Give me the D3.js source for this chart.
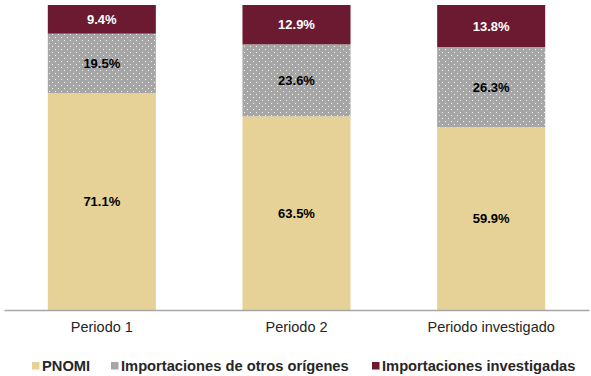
<!DOCTYPE html>
<html>
<head>
<meta charset="utf-8">
<script src="https://cdn.jsdelivr.net/npm/d3@7"></script>
<style>
    body { margin: 0; background: #fff; }
    svg { display: block; font-family: 'Liberation Sans', Arial, sans-serif; }
</style>
</head>
<body>
<svg id="chart" width="591" height="376"></svg>
<script>
const periods = ['Periodo 1', 'Periodo 2', 'Periodo investigado'];
const pnomi = [71.1, 63.5, 59.9];
const otros = [19.5, 23.6, 26.3];
const investigadas = [9.4, 12.9, 13.8];
const seriesNames = ['PNOMI', 'Importaciones de otros orígenes', 'Importaciones investigadas'];

const width = 591;
const height = 376;
const margin = { top: 5, right: 2, bottom: 66, left: 4 };

const svg = d3.select('#chart');

// dotted fill for the gray segment
const defs = svg.append('defs');
const pat = defs.append('pattern')
    .attr('id', 'dots')
    .attr('patternUnits', 'userSpaceOnUse')
    .attr('width', 6)
    .attr('height', 6);
pat.append('rect').attr('width', 6).attr('height', 6).attr('fill', '#a6a6a6');
pat.append('rect').attr('x', 1).attr('y', 1).attr('width', 1).attr('height', 1).attr('fill', '#f2f2f2');
pat.append('rect').attr('x', 4).attr('y', 4).attr('width', 1).attr('height', 1).attr('fill', '#f2f2f2');

const colors = ['#e6d296', 'url(#dots)', '#6b1a31'];
const legendColors = ['#e6d296', '#a6a6a6', '#6b1a31'];
const labelColors = ['#000', '#000', '#fff'];

const rows = periods.map((p, i) => ({
    period: p,
    s0: pnomi[i],
    s1: otros[i],
    s2: investigadas[i],
}));

const stack = d3.stack().keys(['s0', 's1', 's2']);
const stacked = stack(rows);

const x = d3.scaleBand()
    .domain(periods)
    .range([margin.left, width - margin.right])
    .paddingInner(0.445)
    .paddingOuter(0.225);

const y = d3.scaleLinear()
    .domain([0, 100])
    .range([height - margin.bottom, margin.top]);

// Bars
const layers = svg.append('g').selectAll('g')
    .data(stacked)
    .enter()
    .append('g')
    .attr('fill', (d, i) => colors[i]);

layers.selectAll('rect')
    .data(d => d)
    .enter()
    .append('rect')
    .attr('x', d => x(d.data.period))
    .attr('y', d => y(d[1]))
    .attr('width', x.bandwidth())
    .attr('height', d => y(d[0]) - y(d[1]));

// Value labels
stacked.forEach((layer, li) => {
    svg.append('g').selectAll('text')
        .data(layer)
        .enter()
        .append('text')
        .attr('x', d => x(d.data.period) + x.bandwidth() / 2)
        .attr('y', d => (y(d[0]) + y(d[1])) / 2)
        .attr('dy', '0.35em')
        .attr('text-anchor', 'middle')
        .attr('font-size', 13)
        .attr('font-weight', 'bold')
        .attr('fill', labelColors[li])
        .text(d => (d[1] - d[0]).toFixed(1) + '%');
});

// x-axis
const xAxis = d3.axisBottom(x).tickSize(0).tickPadding(12);
const gx = svg.append('g')
    .attr('transform', `translate(0, ${height - margin.bottom})`)
    .call(xAxis);
gx.select('.domain').attr('stroke', '#a6a6a6').attr('stroke-width', 1.3);
gx.selectAll('text')
    .attr('font-size', 14.5)
    .attr('font-family', "'Liberation Sans', Arial, sans-serif")
    .attr('fill', '#262626');

// Legend
const legendX = [32, 111, 372];
const legend = svg.append('g').selectAll('g')
    .data(seriesNames)
    .enter()
    .append('g')
    .attr('transform', (d, i) => `translate(${legendX[i]}, 366)`);
legend.append('rect')
    .attr('x', 0)
    .attr('y', -4)
    .attr('width', 7.5)
    .attr('height', 7.5)
    .attr('fill', (d, i) => legendColors[i]);
legend.append('text')
    .attr('x', 10)
    .attr('dy', '0.35em')
    .attr('font-size', 14.7)
    .attr('font-weight', 'bold')
    .attr('fill', '#262626')
    .text(d => d);
</script>
</body>
</html>
